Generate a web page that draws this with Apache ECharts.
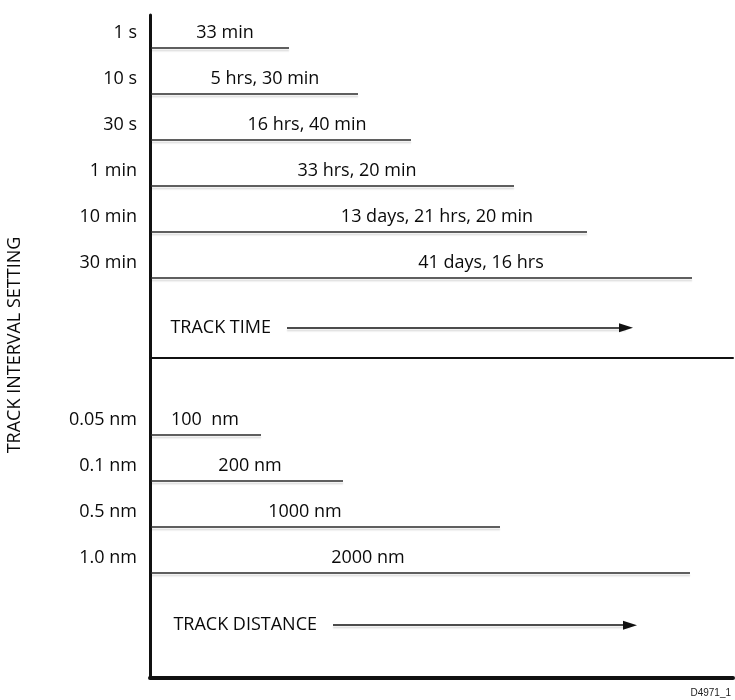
<!DOCTYPE html>
<html>
<head>
<meta charset="utf-8">
<script src="https://cdn.jsdelivr.net/npm/echarts@6/dist/echarts.min.js"></script>
<style>
  html, body { margin: 0; background: #fff; }
  #chart { width: 735px; height: 700px; }
</style>
</head>
<body>
<div id="chart"></div>
<script>
// track interval settings -> track time
const timeSettings = ['1 s', '10 s', '30 s', '1 min', '10 min', '30 min'];
const timeCaptions = ['33 min', '5 hrs, 30 min', '16 hrs, 40 min', '33 hrs, 20 min', '13 days, 21 hrs, 20 min', '41 days, 16 hrs'];
const timeLength = [139, 208, 261, 364, 437, 542];

// track interval settings -> track distance
const distSettings = ['0.05 nm', '0.1 nm', '0.5 nm', '1.0 nm'];
const distCaptions = ['100  nm', '200 nm', '1000 nm', '2000 nm'];
const distLength = [111, 193, 350, 540];

// where each caption is centred along the x axis (layout only)
const timeCaptionX = [75, 115, 157, 207, 287, 331];
const distCaptionX = [55, 100, 155, 218];

const ROW = 46; // px between rows
const FONT = '18px "Open Sans"';
const INK = '#0a0a0a';

const chart = echarts.init(document.getElementById('chart'));

function rowRenderer(settings, captions, captionX) {
  return function (params, api) {
    const i = params.dataIndex;
    const start = api.coord([0, api.value(1)]);
    const end = api.coord([api.value(0), api.value(1)]);
    const cap = api.coord([captionX[i], api.value(1)]);
    return {
      type: 'group',
      children: [
        {
          type: 'line',
          shape: { x1: start[0] + 1, y1: start[1] + 15, x2: end[0], y2: end[1] + 15 },
          style: { stroke: '#2a2a2a', lineWidth: 1.7, shadowColor: 'rgba(0,0,0,0.16)', shadowOffsetY: 2.5, shadowBlur: 1.5 },
        },
        {
          type: 'text',
          x: cap[0],
          y: cap[1],
          style: { text: captions[i], font: FONT, fill: INK, align: 'center', verticalAlign: 'middle', textAlign: 'center', textVerticalAlign: 'middle' },
        },
        {
          type: 'text',
          x: start[0] - 13,
          y: start[1],
          style: { text: settings[i], font: FONT, fill: INK, align: 'right', verticalAlign: 'middle', textAlign: 'right', textVerticalAlign: 'middle' },
        },
      ],
    };
  };
}

function arrow(label, x1, x2, y) {
  return {
    silent: true,
    symbol: ['none', 'triangle'],
    lineStyle: { color: '#111', width: 1.5, type: 'solid', shadowColor: 'rgba(0,0,0,0.16)', shadowOffsetY: 2.5, shadowBlur: 1.5 },
    label: { show: true, position: 'start', distance: 16, formatter: label, color: INK, fontSize: 18, fontFamily: 'Open Sans' },
    data: [[
      { coord: [x1, y] },
      { coord: [x2, y], symbol: 'triangle', symbolSize: [9, 14] },
    ]],
  };
}

const hidden = { axisLabel: { show: false }, axisTick: { show: false }, splitLine: { show: false } };

chart.setOption({
  animation: false,
  grid: [
    { left: 150, right: 2, top: 15, height: 343 },
    { left: 150, right: 2, top: 358, height: 320 },
  ],
  xAxis: [
    { type: 'value', gridIndex: 0, min: 0, max: 583, ...hidden,
      axisLine: { show: true, onZero: false, lineStyle: { color: '#111', width: 2 } } },
    { type: 'value', gridIndex: 1, min: 0, max: 583, ...hidden,
      axisLine: { show: true, onZero: false, lineStyle: { color: '#111', width: 4 } } },
  ],
  yAxis: [
    { type: 'value', gridIndex: 0, inverse: true, min: -18 / ROW, max: (343 - 18) / ROW, ...hidden,
      axisLine: { show: true, onZero: false, lineStyle: { color: '#111', width: 3 } } },
    { type: 'value', gridIndex: 1, inverse: true, min: -62 / ROW, max: (320 - 62) / ROW, ...hidden,
      axisLine: { show: true, onZero: false, lineStyle: { color: '#111', width: 3 } } },
  ],
  graphic: [
    { type: 'text', x: 15, y: 345, rotation: Math.PI / 2,
      style: { text: 'TRACK INTERVAL SETTING', font: FONT, fill: INK, align: 'center', verticalAlign: 'middle', textAlign: 'center', textVerticalAlign: 'middle' } },
    { type: 'text', right: 4, bottom: 2,
      style: { text: 'D4971_1', font: '10px "Liberation Sans"', fill: '#222' } },
  ],
  series: [
    {
      type: 'custom',
      xAxisIndex: 0,
      yAxisIndex: 0,
      data: timeLength.map((v, i) => [v, i]),
      encode: { x: 0, y: 1 },
      renderItem: rowRenderer(timeSettings, timeCaptions, timeCaptionX),
      markLine: arrow('TRACK TIME', 137, 476, 6.41),
    },
    {
      type: 'custom',
      xAxisIndex: 1,
      yAxisIndex: 1,
      data: distLength.map((v, i) => [v, i]),
      encode: { x: 0, y: 1 },
      renderItem: rowRenderer(distSettings, distCaptions, distCaptionX),
      markLine: arrow('TRACK DISTANCE', 183, 480, 4.46),
    },
  ],
});
</script>
</body>
</html>
